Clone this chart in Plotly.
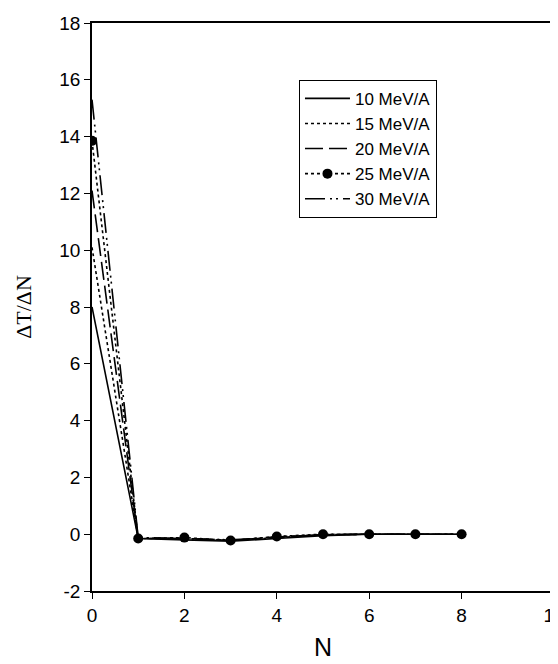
import plotly.graph_objects as go

N = [0, 1, 2, 3, 4, 5, 6, 7, 8]
labels = ["10 MeV/A", "15 MeV/A", "20 MeV/A", "25 MeV/A", "30 MeV/A"]
v10 = [8.0, -0.15, -0.2, -0.25, -0.15, -0.05, 0.0, 0.0, 0.0]
v15 = [10.1, -0.15, -0.15, -0.22, -0.12, -0.02, 0.0, 0.0, 0.0]
v20 = [12.1, -0.15, -0.15, -0.22, -0.1, -0.02, 0.0, 0.0, 0.0]
v25 = [13.85, -0.15, -0.12, -0.22, -0.08, 0.0, 0.0, 0.0, 0.0]
v30 = [15.3, -0.12, -0.15, -0.2, -0.1, -0.02, 0.0, 0.0, 0.0]

xticks = [0, 2, 4, 6, 8, 10]
xticklabels = ["0", "2", "4", "6", "8", "10"]
yticks = [-2, 0, 2, 4, 6, 8, 10, 12, 14, 16, 18]
yticklabels = ["-2", "0", "2", "4", "6", "8", "10", "12", "14", "16", "18"]

series = [v10, v15, v20, v25, v30]
dashes = ["solid", "dot", "18px,6px", "dot", "20px,5px,2px,4px,2px,5px"]
modes = ["lines", "lines", "lines", "lines+markers", "lines"]

fig = go.Figure()
for lab, vals, d, m in zip(labels, series, dashes, modes):
    fig.add_trace(go.Scatter(
        x=N, y=vals, name=lab, mode=m,
        line=dict(color="black", width=1.6, dash=d),
        marker=dict(color="black", size=10),
    ))

axis_common = dict(
    showgrid=False, zeroline=False, showline=True, linecolor="black", linewidth=1.5,
    mirror=True, ticks="outside", ticklen=6, tickcolor="black", tickwidth=1,
    tickfont=dict(family="Liberation Sans, Arial", size=19, color="black"),
    automargin=False,
)

fig.update_layout(
    width=558, height=664,
    margin=dict(l=84, r=12, t=15, b=81),
    paper_bgcolor="white", plot_bgcolor="white",
    xaxis=dict(range=[0, 10], tickmode="array", tickvals=xticks, ticktext=xticklabels, **axis_common,
               title=dict(text="N", font=dict(family="Liberation Sans, Arial", size=25, color="black"), standoff=14)),
    yaxis=dict(range=[-2, 18], tickmode="array", tickvals=yticks, ticktext=yticklabels, **axis_common,
               title=dict(text="ΔT/ΔN", font=dict(family="Liberation Serif, Times New Roman", size=22, color="black"), standoff=22)),
    legend=dict(x=0.448, y=0.90, xanchor="left", yanchor="top",
                bordercolor="black", borderwidth=1, bgcolor="white",
                font=dict(family="Liberation Sans, Arial", size=17, color="black"),
                itemwidth=45, tracegroupgap=0),
    showlegend=True,
)

fig.write_html("out.html")
